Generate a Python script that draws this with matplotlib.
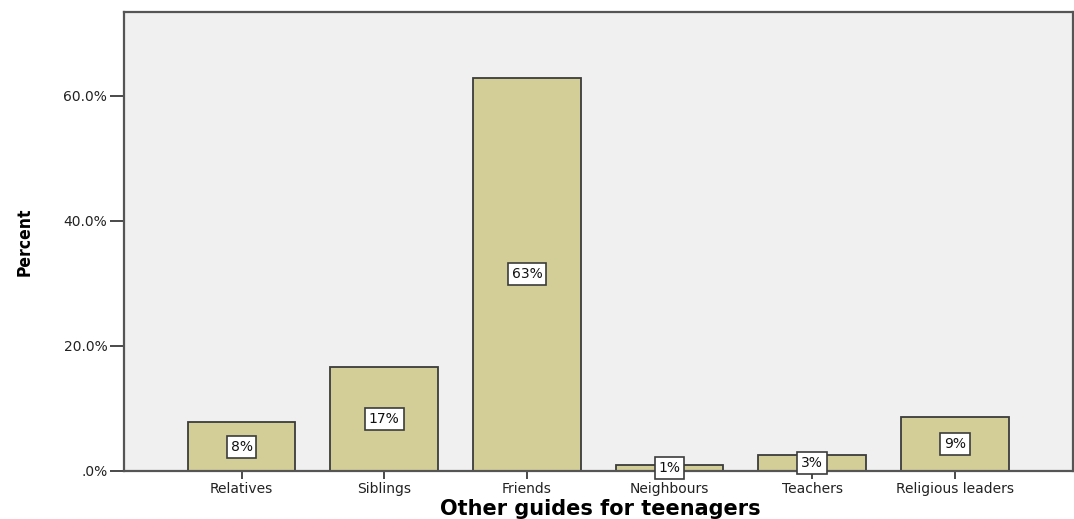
import matplotlib
matplotlib.use("Agg")
import matplotlib.pyplot as plt

categories = ["Relatives", "Siblings", "Friends", "Neighbours", "Teachers", "Religious leaders"]
percents = [7.8, 16.6, 62.9, 0.9, 2.6, 8.7]
bar_labels = ["8%", "17%", "63%", "1%", "3%", "9%"]
yticks = [0, 20, 40, 60]
ytick_labels = [".0%", "20.0%", "40.0%", "60.0%"]

fig = plt.figure(figsize=(10.74, 5.19), dpi=100)
ax = fig.add_axes([124/1074, 48/519, (1072.5-124)/1074, (471-12)/519])
ax.set_facecolor("#F0F0F0")

x = list(range(len(categories)))
ax.bar(x, percents, width=0.755, color="#D3CE98", edgecolor="#3C3C3C", linewidth=1.3, zorder=2)

for xi, v, lab in zip(x, percents, bar_labels):
    ax.text(xi, v/2, lab, ha="center", va="center", fontsize=10, family="DejaVu Sans",
            color="#111111", zorder=3,
            bbox=dict(boxstyle="square,pad=0.28", facecolor="white", edgecolor="#3C3C3C", linewidth=1.2))

ax.set_xlim(-0.824, 5.824)
ax.set_ylim(0, 73.4)
ax.set_xticks(x)
ax.set_xticklabels(categories, fontsize=10, family="DejaVu Sans", color="#222222")
ax.set_yticks(yticks)
ax.set_yticklabels(ytick_labels, fontsize=10, family="DejaVu Sans", color="#222222")
ax.tick_params(axis="y", length=10, width=1.3, color="#3C3C3C", pad=2)
ax.tick_params(axis="x", length=6, width=1.3, color="#3C3C3C", pad=2)

for s in ax.spines.values():
    s.set_color("#555555")
    s.set_linewidth(1.6)

fig.text(25/1074, 1 - 242/519, "Percent", rotation=90, ha="center", va="center",
         fontsize=12.5, fontweight="bold", family="DejaVu Sans", fontstretch="condensed")
fig.text(600/1074, 1 - 509/519, "Other guides for teenagers", ha="center", va="center",
         fontsize=15, fontweight="bold", family="DejaVu Sans")

fig.savefig("out.png", dpi=100, facecolor="white")
